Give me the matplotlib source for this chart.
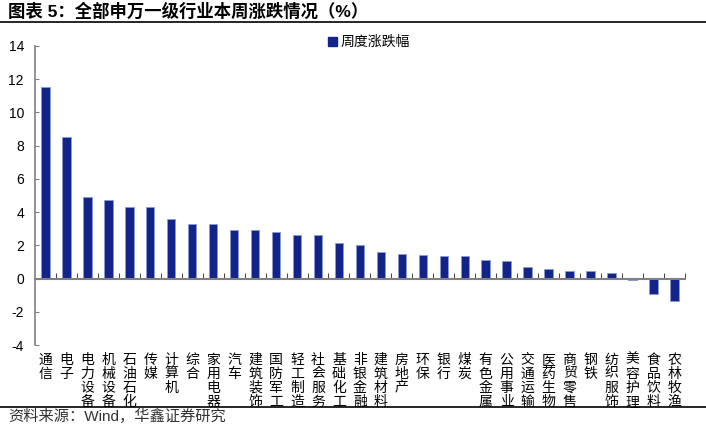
import matplotlib
matplotlib.use('Agg')
import matplotlib.pyplot as plt
from matplotlib.patches import Patch

plt.rcParams['font.family'] = ['Liberation Sans', 'Noto Sans CJK SC', 'DejaVu Sans']
plt.rcParams['axes.unicode_minus'] = False

industries = ['通信', '电子', '电力设备', '机械设备', '石油石化', '传媒', '计算机', '综合',
              '家用电器', '汽车', '建筑装饰', '国防军工', '轻工制造', '社会服务', '基础化工',
              '非银金融', '建筑材料', '房地产', '环保', '银行', '煤炭', '有色金属', '公用事业',
              '交通运输', '医药生物', '商贸零售', '钢铁', '纺织服饰', '美容护理', '食品饮料',
              '农林牧渔']
weekly_change = [11.55, 8.49, 4.91, 4.71, 4.33, 4.31, 3.58, 3.30, 3.30, 2.92, 2.90, 2.80,
                 2.62, 2.60, 2.13, 2.01, 1.61, 1.51, 1.43, 1.39, 1.37, 1.13, 1.07, 0.70,
                 0.56, 0.46, 0.45, 0.36, -0.08, -0.95, -1.37]
yticks = [-4, -2, 0, 2, 4, 6, 8, 10, 12, 14]

bar_color = '#12248A'
axis_gray = '#808080'

fig = plt.figure(figsize=(7.06, 4.25), dpi=100)
ax = fig.add_axes([0.0496, 0.188, 0.9204, 0.704])

x = list(range(len(industries)))
ax.bar(x, weekly_change, width=0.4, color=bar_color, edgecolor='#8A9AD0', linewidth=0.6)

ax.set_xlim(-0.5, len(industries) - 0.5)
ax.set_ylim(-4, 14)
ax.set_yticks(yticks)
ax.set_yticklabels([str(v) for v in yticks], fontsize=10)

for side in ['top', 'right']:
    ax.spines[side].set_visible(False)
ax.spines['left'].set_color(axis_gray)
ax.spines['left'].set_linewidth(1.2)
ax.spines['bottom'].set_position(('data', 0))
ax.spines['bottom'].set_color(axis_gray)
ax.spines['bottom'].set_linewidth(1.5)

ax.tick_params(axis='y', direction='in', length=3, color=axis_gray, pad=8)
ax.set_xticks(x)
ax.set_xticklabels([])
ax.tick_params(axis='x', which='major', length=0)
ax.set_xticks([i + 0.5 for i in x[:-1]] + [len(industries) - 0.5], minor=True)
ax.tick_params(axis='x', which='minor', direction='in', length=4, color='#222222')

for i, name in enumerate(industries):
    ax.text(i, -0.025, '\n'.join(name), transform=ax.get_xaxis_transform(),
            ha='center', va='top', fontsize=10, linespacing=1.0)

ax.legend(handles=[Patch(color=bar_color, label='周度涨跌幅')], loc='upper left',
          bbox_to_anchor=(0.455, 0.934), bbox_transform=fig.transFigure,
          frameon=False, fontsize=10, handlelength=0.6, handleheight=0.6,
          handletextpad=0.3, borderpad=0)

fig.text(0.012, 0.973, '图表 5：全部申万一级行业本周涨跌情况（%）', fontsize=12.5,
         fontweight='bold', ha='left', va='center')
fig.add_artist(plt.Line2D([0, 1], [0.948, 0.948], transform=fig.transFigure,
                          color='black', linewidth=1.2))
fig.add_artist(plt.Line2D([0, 1], [0.043, 0.043], transform=fig.transFigure,
                          color='black', linewidth=1.2))
fig.text(0.012, 0.021, '资料来源：Wind，华鑫证券研究', fontsize=11, color='#333333',
         ha='left', va='center')

fig.savefig('out.png', dpi=100)
